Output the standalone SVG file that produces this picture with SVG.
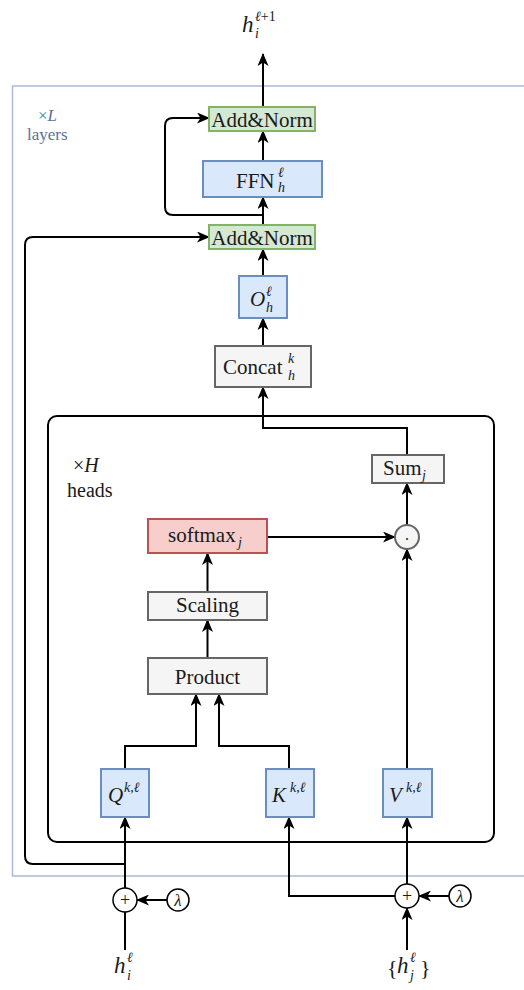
<svg xmlns="http://www.w3.org/2000/svg" width="524" height="990" viewBox="0 0 524 990">
  <defs>
    <marker id="arr" markerUnits="userSpaceOnUse" markerWidth="13" markerHeight="11" refX="12" refY="5.5" orient="auto">
      <path d="M0,0 L13,5.5 L0,11 L3.5,5.5 z" fill="#000"/>
    </marker>
    <style>
      .t { fill: #1a1a1a; font-size: 21px; }
      .it { font-style: italic; }
      .sm { font-size: 14px; }
      .blue { fill: #dae8fc; stroke: #6c8ebf; stroke-width: 2; }
      .green { fill: #d5e8d4; stroke: #82b366; stroke-width: 2; }
      .grey { fill: #f5f5f5; stroke: #666666; stroke-width: 2; }
      .red { fill: #f8cecc; stroke: #b85450; stroke-width: 2; }
      .edge { fill: none; stroke: #000; stroke-width: 2; }
      .arr { marker-end: url(#arr); }
      .lbl { fill: #5d7199; font-size: 17px; }
    </style>
  </defs>

  <!-- repeated-layer frame -->
  <g id="layer-frame">
    <rect x="12.5" y="86" width="530" height="790" fill="none" stroke="#a9bbd8" stroke-width="1.5"/>
    <text class="lbl" font-family="Liberation Serif" x="38" y="121">×<tspan font-style="italic">L</tspan></text>
    <text class="lbl" font-family="Liberation Serif" x="27" y="140">layers</text>
  </g>

  <!-- attention-head frame -->
  <g id="head-frame">
    <rect x="48" y="416" width="446" height="426" rx="9" fill="none" stroke="#000" stroke-width="2"/>
    <text class="t" font-family="Liberation Serif" x="73" y="472" style="font-size:20px">×<tspan class="it">H</tspan></text>
    <text class="t" font-family="Liberation Serif" x="67" y="497" style="font-size:20px">heads</text>
  </g>

  <!-- connectors -->
  <g id="connectors">
    <path class="edge arr" d="M263,107 V54"/>
    <path class="edge arr" d="M263,161 V131"/>
    <path class="edge arr" d="M263,224 V197"/>
    <path class="edge arr" d="M263,215 H173 Q165,215 165,207 V126 Q165,118 173,118 H209"/>
    <path class="edge arr" d="M263,276 V249"/>
    <path class="edge arr" d="M263,346 V318"/>
    <path class="edge arr" d="M407,455 V428 H263 V387"/>
    <path class="edge arr" d="M407,525 V483"/>
    <path class="edge arr" d="M267,537 H395"/>
    <path class="edge arr" d="M207.5,592 V553"/>
    <path class="edge arr" d="M207.5,658 V620"/>
    <path class="edge arr" d="M125,769 V746 H196 V694"/>
    <path class="edge arr" d="M289,769 V746 H219 V694"/>
    <path class="edge arr" d="M407,769 V549"/>
    <path class="edge arr" d="M125,888 V817"/>
    <path class="edge arr" d="M125,864 H33 Q25,864 25,856 V245 Q25,237 33,237 H209"/>
    <path class="edge arr" d="M167,900 H137"/>
    <path class="edge" d="M125,950 V912"/>
    <path class="edge arr" d="M407,950 V908"/>
    <path class="edge arr" d="M395,896 H289 V817"/>
    <path class="edge arr" d="M407,884 V817"/>
    <path class="edge arr" d="M449,896 H419"/>
  </g>

  <!-- output label -->
  <g id="out-label">
    <text class="t it" font-family="Liberation Serif" x="242" y="32" style="font-size:23px">h</text>
    <text class="t sm" font-family="Liberation Serif" x="255" y="21"><tspan class="it">ℓ</tspan>+1</text>
    <text class="t sm it" font-family="Liberation Serif" x="255" y="38">i</text>
  </g>

  <g id="addnorm-top">
    <rect class="green" x="209" y="107" width="106" height="24"/>
    <text class="t" font-family="Liberation Serif" x="262" y="127" text-anchor="middle">Add&amp;Norm</text>
  </g>

  <g id="ffn">
    <rect class="blue" x="203" y="161" width="119" height="36"/>
    <text class="t" font-family="Liberation Serif" x="236" y="188">FFN</text>
    <text class="t sm it" font-family="Liberation Serif" x="278" y="177">ℓ</text>
    <text class="t sm it" font-family="Liberation Serif" x="278" y="192">h</text>
  </g>

  <g id="addnorm-mid">
    <rect class="green" x="209" y="225" width="106" height="24"/>
    <text class="t" font-family="Liberation Serif" x="262" y="245" text-anchor="middle">Add&amp;Norm</text>
  </g>

  <g id="out-proj">
    <rect class="blue" x="239" y="276" width="48" height="42"/>
    <text class="t it" font-family="Liberation Serif" x="250" y="306">O</text>
    <text class="t sm it" font-family="Liberation Serif" x="266" y="296">ℓ</text>
    <text class="t sm it" font-family="Liberation Serif" x="266" y="312">h</text>
  </g>

  <g id="concat">
    <rect class="grey" x="215" y="346" width="96" height="41"/>
    <text class="t" font-family="Liberation Serif" x="223" y="374">Concat</text>
    <text class="t sm it" font-family="Liberation Serif" x="288" y="363">k</text>
    <text class="t sm it" font-family="Liberation Serif" x="288" y="380">h</text>
  </g>

  <g id="sum">
    <rect class="grey" x="372" y="455" width="72" height="28"/>
    <text class="t" font-family="Liberation Serif" x="383" y="475">Sum</text>
    <text class="t sm it" font-family="Liberation Serif" x="422" y="480">j</text>
  </g>

  <g id="softmax">
    <rect class="red" x="148" y="519" width="119" height="34"/>
    <text class="t" font-family="Liberation Serif" x="168" y="542">softmax</text>
    <text class="t sm it" font-family="Liberation Serif" x="238" y="547">j</text>
  </g>

  <g id="dot">
    <circle cx="407" cy="537" r="12" fill="#f5f5f5" stroke="#666666" stroke-width="2"/>
    <text class="t" font-family="Liberation Serif" x="407" y="540" style="font-size:16px" text-anchor="middle">.</text>
  </g>

  <g id="scaling">
    <rect class="grey" x="148" y="592" width="119" height="28"/>
    <text class="t" font-family="Liberation Serif" x="207.5" y="612" text-anchor="middle">Scaling</text>
  </g>

  <g id="product">
    <rect class="grey" x="148" y="658" width="119" height="36"/>
    <text class="t" font-family="Liberation Serif" x="207.5" y="684" text-anchor="middle">Product</text>
  </g>

  <g id="query">
    <rect class="blue" x="101" y="769" width="48" height="48"/>
    <text class="t it" font-family="Liberation Serif" x="108" y="802">Q</text>
    <text class="t sm it" font-family="Liberation Serif" x="124" y="792">k,ℓ</text>
  </g>

  <g id="key">
    <rect class="blue" x="266" y="769" width="48" height="48"/>
    <text class="t it" font-family="Liberation Serif" x="272" y="802">K</text>
    <text class="t sm it" font-family="Liberation Serif" x="290" y="792">k,ℓ</text>
  </g>

  <g id="value">
    <rect class="blue" x="383" y="769" width="49" height="48"/>
    <text class="t it" font-family="Liberation Serif" x="389" y="802">V</text>
    <text class="t sm it" font-family="Liberation Serif" x="406" y="792">k,ℓ</text>
  </g>

  <g id="plus-left">
    <circle cx="125" cy="900" r="12" fill="#fff" stroke="#000" stroke-width="1.5"/>
    <text class="t" font-family="Liberation Serif" x="125" y="906" style="font-size:18px" text-anchor="middle">+</text>
  </g>
  <g id="lambda-left">
    <circle cx="178" cy="900" r="11" fill="#fff" stroke="#000" stroke-width="1.5"/>
    <text class="t it" font-family="Liberation Serif" x="178" y="906" style="font-size:17px" text-anchor="middle">λ</text>
  </g>

  <g id="plus-right">
    <circle cx="407" cy="896" r="12" fill="#fff" stroke="#000" stroke-width="1.5"/>
    <text class="t" font-family="Liberation Serif" x="407" y="902" style="font-size:18px" text-anchor="middle">+</text>
  </g>
  <g id="lambda-right">
    <circle cx="460" cy="896" r="11" fill="#fff" stroke="#000" stroke-width="1.5"/>
    <text class="t it" font-family="Liberation Serif" x="460" y="902" style="font-size:17px" text-anchor="middle">λ</text>
  </g>

  <g id="in-query">
    <text class="t it" font-family="Liberation Serif" x="114" y="973" style="font-size:23px">h</text>
    <text class="t sm it" font-family="Liberation Serif" x="127" y="962">ℓ</text>
    <text class="t sm it" font-family="Liberation Serif" x="127" y="980">i</text>
  </g>

  <g id="in-keys">
    <text class="t" font-family="Liberation Serif" x="387" y="975" style="font-size:22px">{</text>
    <text class="t it" font-family="Liberation Serif" x="397" y="973" style="font-size:23px">h</text>
    <text class="t sm it" font-family="Liberation Serif" x="410" y="962">ℓ</text>
    <text class="t sm it" font-family="Liberation Serif" x="410" y="980">j</text>
    <text class="t" font-family="Liberation Serif" x="420" y="975" style="font-size:22px">}</text>
  </g>
</svg>
